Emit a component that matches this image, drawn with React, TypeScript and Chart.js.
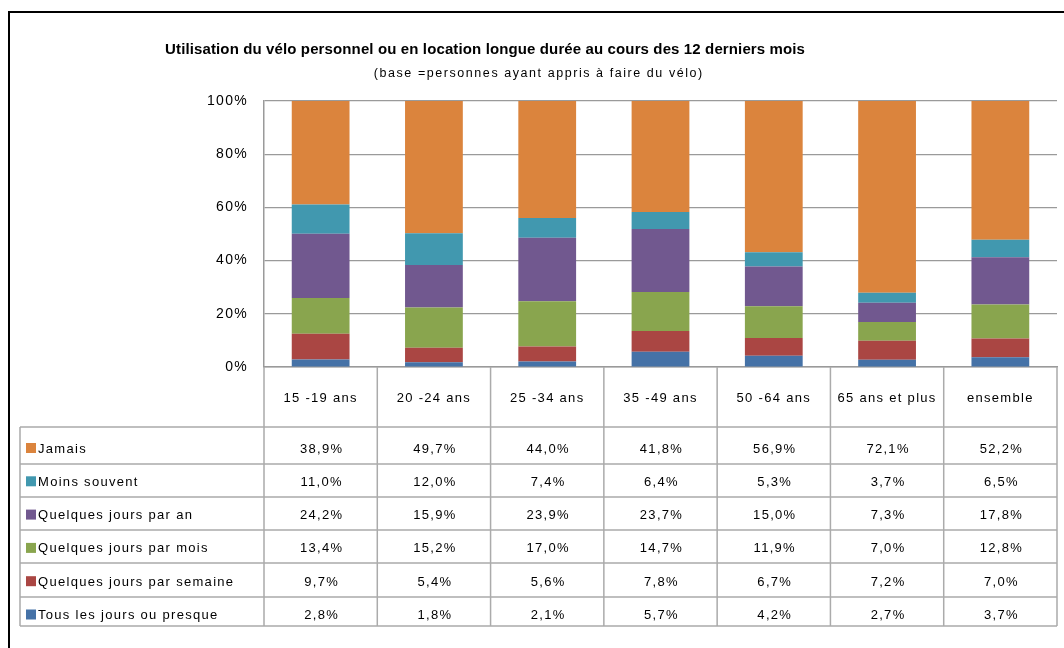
import React, { useEffect, useRef } from "react";
import { Chart, registerables } from "chart.js";

Chart.register(...registerables);

const FONT = "'Liberation Sans', Arial, sans-serif";

const categories = ["15 -19 ans", "20 -24 ans", "25 -34 ans", "35 -49 ans", "50 -64 ans", "65 ans et plus", "ensemble"];

const tousLesJours = [2.8, 1.8, 2.1, 5.7, 4.2, 2.7, 3.7];
const parSemaine = [9.7, 5.4, 5.6, 7.8, 6.7, 7.2, 7.0];
const parMois = [13.4, 15.2, 17.0, 14.7, 11.9, 7.0, 12.8];
const parAn = [24.2, 15.9, 23.9, 23.7, 15.0, 7.3, 17.8];
const moinsSouvent = [11.0, 12.0, 7.4, 6.4, 5.3, 3.7, 6.5];
const jamais = [38.9, 49.7, 44.0, 41.8, 56.9, 72.1, 52.2];

const yTickValues = [0, 20, 40, 60, 80, 100];

const titleText = "Utilisation du vélo personnel ou en location longue durée au cours des 12 derniers mois";
const subtitleText = "(base =personnes ayant appris à faire du vélo)";

// stacking order: bottom to top
const series = [
  { label: "Tous les jours ou presque", data: tousLesJours, color: "#4572A7" },
  { label: "Quelques jours par semaine", data: parSemaine, color: "#AA4643" },
  { label: "Quelques jours par mois", data: parMois, color: "#89A54E" },
  { label: "Quelques jours par an", data: parAn, color: "#71588F" },
  { label: "Moins souvent", data: moinsSouvent, color: "#4198AF" },
  { label: "Jamais", data: jamais, color: "#DB843D" },
];

const fmt = (v: number) => v.toFixed(1).replace(".", ",") + "%";

function fitText(ctx: CanvasRenderingContext2D, text: string, x: number, y: number, target: number) {
  (ctx as any).letterSpacing = "0px";
  const w = ctx.measureText(text).width;
  const ls = (target - w) / text.length;
  (ctx as any).letterSpacing = ls + "px";
  ctx.fillText(text, x + ls / 2, y);
}

const framePlugin = {
  id: "frameAndTable",
  beforeDraw(chart: any) {
    const ctx: CanvasRenderingContext2D = chart.ctx;
    ctx.save();
    ctx.fillStyle = "#ffffff";
    ctx.fillRect(0, 0, chart.width, chart.height);
    // outer frame
    ctx.strokeStyle = "#000000";
    ctx.lineWidth = 2;
    ctx.beginPath();
    ctx.moveTo(9, chart.height + 10);
    ctx.lineTo(9, 12);
    ctx.lineTo(chart.width + 10, 12);
    ctx.stroke();
    // titles
    ctx.fillStyle = "#000000";
    ctx.textAlign = "center";
    ctx.textBaseline = "alphabetic";
    ctx.font = "bold 15px " + FONT;
    fitText(ctx, titleText, 485, 54, 640);
    ctx.font = "12.5px " + FONT;
    fitText(ctx, subtitleText, 538, 77, 330);
    ctx.restore();
    (ctx as any).letterSpacing = "1.3px";
  },
  afterDraw(chart: any) {
    const ctx: CanvasRenderingContext2D = chart.ctx;
    const x = chart.scales.x;
    const area = chart.chartArea;
    const n = categories.length;
    const colW = (x.right - x.left) / n;
    const bounds: number[] = [];
    for (let i = 0; i <= n; i++) {
      bounds.push(i < n ? x.getPixelForValue(i) - colW / 2 : x.getPixelForValue(n - 1) + colW / 2);
    }
    const top = area.bottom;
    const tableLeft = 20;
    const lineOffsets = [60, 97, 130, 163, 196, 230, 259];
    const rowLines = lineOffsets.map((o) => top + o);
    const textCenters = series.map((_, i) => top + 81 + 33.3 * i);

    ctx.save();
    ctx.strokeStyle = "#ababab";
    ctx.lineWidth = 1.5;
    ctx.beginPath();
    // header verticals
    bounds.forEach((b) => {
      ctx.moveTo(b, top);
      ctx.lineTo(b, rowLines[rowLines.length - 1]);
    });
    ctx.moveTo(tableLeft, rowLines[0]);
    ctx.lineTo(tableLeft, rowLines[rowLines.length - 1]);
    rowLines.forEach((yy) => {
      ctx.moveTo(tableLeft, yy);
      ctx.lineTo(bounds[n], yy);
    });
    ctx.stroke();

    const rows = [...series].reverse();
    ctx.font = "13px " + FONT;
    (ctx as any).letterSpacing = "1.3px";
    ctx.textBaseline = "middle";
    rows.forEach((s, r) => {
      const cy = textCenters[r];
      ctx.fillStyle = s.color;
      ctx.fillRect(26, cy - 5, 10, 10);
      ctx.fillStyle = "#000000";
      ctx.textAlign = "left";
      ctx.fillText(s.label, 38, cy + 1);
      ctx.textAlign = "center";
      s.data.forEach((v, i) => {
        ctx.fillText(fmt(v), x.getPixelForValue(i) + 1, cy + 1);
      });
    });
    ctx.restore();
  },
};

export default function App() {
  const canvasRef = useRef<HTMLCanvasElement | null>(null);

  useEffect(() => {
    if (!canvasRef.current) return;
    Chart.defaults.font.family = FONT;
    const chart = new Chart(canvasRef.current, {
      type: "bar",
      data: {
        labels: categories,
        datasets: series.map((s) => ({
          label: s.label,
          data: s.data,
          backgroundColor: s.color,
          borderWidth: 0,
          barPercentage: 0.51,
          categoryPercentage: 1,
        })),
      },
      options: {
        responsive: false,
        animation: false,
        devicePixelRatio: 1,
        layout: { padding: { left: 0, right: 7, top: 101, bottom: 0 } },
        plugins: {
          legend: { display: false },
          tooltip: { enabled: false },
          title: { display: false },
        },
        scales: {
          x: {
            stacked: true,
            grid: { display: false, drawTicks: false },
            border: { display: true, color: "#9a9a9a", width: 1.5 },
            ticks: { color: "#000", font: { size: 13, family: FONT }, padding: 24, maxRotation: 0 },
            afterFit: (s: any) => {
              s.height = 281;
            },
          },
          y: {
            stacked: true,
            min: 0,
            max: 100,
            afterBuildTicks: (s: any) => {
              s.ticks = yTickValues.map((v) => ({ value: v }));
            },
            grid: { color: "#9a9a9a", lineWidth: 1.2, drawTicks: false },
            border: { display: true, color: "#9a9a9a", width: 1.5 },
            ticks: {
              color: "#000",
              font: { size: 14, family: FONT },
              padding: 16,
              callback: (v: any) => v + "%",
            },
            afterFit: (s: any) => {
              s.width = 264;
            },
          },
        },
      },
      plugins: [framePlugin],
    });
    return () => chart.destroy();
  }, []);

  return (
    <div style={{ position: "fixed", left: 0, top: 0, width: 1064, height: 648, background: "#fff" }}>
      <canvas ref={canvasRef} width={1064} height={648} style={{ display: "block" }} />
    </div>
  );
}
